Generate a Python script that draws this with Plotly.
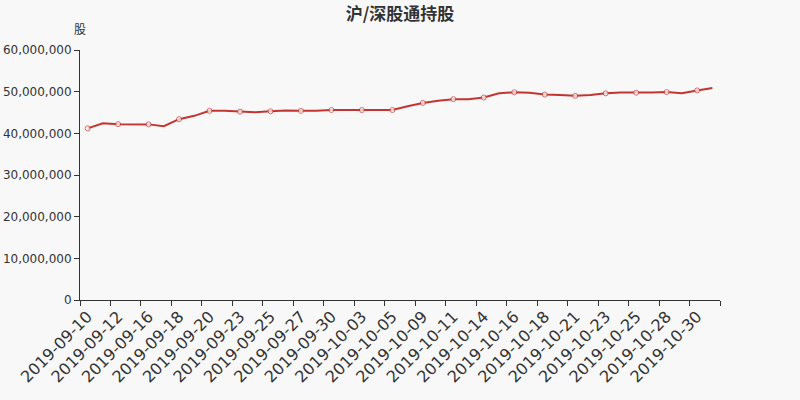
import plotly.graph_objects as go

dates = [
    "2019-09-10", "2019-09-11", "2019-09-12", "2019-09-13", "2019-09-16", "2019-09-17",
    "2019-09-18", "2019-09-19", "2019-09-20", "2019-09-21", "2019-09-23", "2019-09-24",
    "2019-09-25", "2019-09-26", "2019-09-27", "2019-09-28", "2019-09-30", "2019-10-01",
    "2019-10-03", "2019-10-04", "2019-10-05", "2019-10-08", "2019-10-09", "2019-10-10",
    "2019-10-11", "2019-10-12", "2019-10-14", "2019-10-15", "2019-10-16", "2019-10-17",
    "2019-10-18", "2019-10-19", "2019-10-21", "2019-10-22", "2019-10-23", "2019-10-24",
    "2019-10-25", "2019-10-26", "2019-10-28", "2019-10-29", "2019-10-30", "2019-10-31",
]
shares = [
    41.2e6, 42.4e6, 42.2e6, 42.2e6, 42.15e6, 41.7e6,
    43.4e6, 44.2e6, 45.4e6, 45.4e6, 45.2e6, 45.05e6,
    45.3e6, 45.5e6, 45.4e6, 45.4e6, 45.6e6, 45.6e6,
    45.6e6, 45.6e6, 45.6e6, 46.5e6, 47.3e6, 47.8e6,
    48.2e6, 48.2e6, 48.6e6, 49.6e6, 49.85e6, 49.75e6,
    49.3e6, 49.2e6, 49.0e6, 49.2e6, 49.6e6, 49.8e6,
    49.75e6, 49.8e6, 49.9e6, 49.6e6, 50.3e6, 50.9e6,
]
y_ticks = [0, 10e6, 20e6, 30e6, 40e6, 50e6, 60e6]

title_text = "沪/深股通持股"
y_name = "股"

LINE = "#c23531"
INK = "#333333"
BG = "#f8f8f8"

n = len(dates)
idx = list(range(n))
sizes = [5 if i % 2 == 0 else 0 for i in idx]

fig = go.Figure()
fig.add_trace(go.Scatter(
    x=idx, y=shares, customdata=dates, mode="lines+markers",
    line=dict(color=LINE, width=2),
    marker=dict(size=sizes, color="white", line=dict(color=LINE, width=1)),
    hovertemplate="%{customdata}<br>%{y:,}<extra></extra>",
))

fig.update_layout(
    width=800, height=400,
    paper_bgcolor=BG, plot_bgcolor=BG,
    margin=dict(l=80, r=80, t=50, b=100),
    showlegend=False,
    font=dict(family="DejaVu Sans", color=INK, size=12),
    title=dict(text=title_text, x=0.5, xanchor="center", y=0.966, yanchor="middle",
               font=dict(family="Noto Sans CJK SC", size=17, color=INK, weight="bold")),
    annotations=[dict(text=y_name, xref="paper", yref="paper", x=0, y=1.084,
                      xanchor="center", yanchor="middle", showarrow=False,
                      font=dict(family="Noto Sans CJK SC", size=12, color=INK))],
)
fig.update_xaxes(
    range=[-0.5, n - 0.5], automargin=False,
    tickmode="array", tickvals=idx[::2], ticktext=dates[::2],
    ticks="", tickangle=-45, tickfont=dict(size=16, color=INK),
    minor=dict(tickvals=[i - 0.5 for i in range(0, n + 1, 2)], ticks="outside",
               ticklen=5, tickcolor=INK, showgrid=False),
    showline=True, linecolor=INK, linewidth=1, showgrid=False, zeroline=False,
)
fig.update_yaxes(
    range=[0, 60e6], tickmode="array", tickvals=y_ticks, automargin=False,
    tickformat=",d", ticks="outside", ticklen=5, tickcolor=INK,
    tickfont=dict(size=12, color=INK),
    showline=True, linecolor=INK, linewidth=1, showgrid=False, zeroline=False,
)

fig.write_html(
    "out.html",
    config={"displayModeBar": False},
    post_script="document.body.style.margin='0';document.body.style.background='%s';" % BG,
)
